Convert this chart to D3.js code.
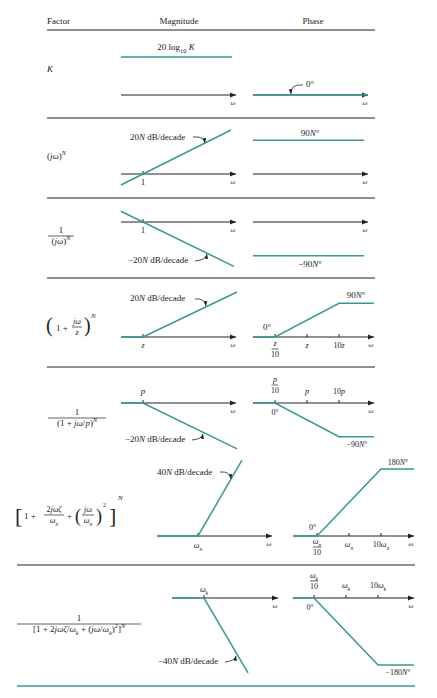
<!DOCTYPE html>
<html><head><meta charset="utf-8">
<script src="https://cdn.jsdelivr.net/npm/d3@7"></script>
<style>
body{margin:0;background:#fff}
text{font-family:"Liberation Serif","DejaVu Serif",serif;fill:#222}
</style></head>
<body><svg id="c" width="437" height="698"></svg>
<script>
// asymptote breakpoints: [decades from corner, dB or degrees]
var magK = [[-0.69, 20], [2.78, 20]];
var magJw = [[-0.69, -13.8], [2.75, 55]];
var magInvJw = [[-0.69, 13.8], [2.84, -56.8]];
var magZero = [[-0.69, 0], [0, 0], [2.94, 58.8]];
var magPole = [[-0.69, 0], [0, 0], [2.94, -58.8]];
var magQuad = [[-1.28, 0], [0, 0], [1.375, 55]];
var magInvQuad = [[-1, 0], [0, 0], [1.375, -55]];

var phK = [[-1.69, 0], [1.9, 0]];
var phJw = [[-1.69, 90], [1.78, 90]];
var phInvJw = [[-1.69, -90], [1.78, -90]];
var phZero = [[-1.69, 0], [-1, 0], [1, 90], [2.09, 90]];
var phPole = [[-1.69, 0], [-1, 0], [1, -90], [2.09, -90]];
var phQuad = [[-1.75, 0], [-1, 0], [1, 180], [2.03, 180]];
var phInvQuad = [[-1.66, 0], [-1, 0], [1, -180], [2.12, -180]];

var phaseTicks = [-1, 0, 1];

var teal = '#3a9893';
var svg = d3.select('#c');
var decade = 32;

svg.append('defs').append('marker').attr('id', 'ah').attr('viewBox', '0 0 10 10')
  .attr('refX', 10).attr('refY', 5).attr('markerWidth', 6).attr('markerHeight', 6)
  .attr('orient', 'auto').append('path').attr('d', 'M0,1L10,5L0,9z').attr('fill', '#222');

// rich text: parts = [str, style] style: i italic, sub, sup
function rt(x, y, parts, anchor, size) {
  size = size || 9;
  var t = svg.append('text').attr('x', x).attr('y', y).attr('font-size', size)
    .attr('text-anchor', anchor || 'start');
  var shift = 0;
  parts.forEach(function(p) {
    var s = t.append('tspan').text(p[0]);
    var st = p[1] || '';
    if (st.indexOf('i') >= 0) s.attr('font-style', 'italic');
    var want = st.indexOf('sub') >= 0 ? 2.5 : st.indexOf('sup') >= 0 ? -4 : 0;
    if (want !== 0 || shift !== 0) { s.attr('dy', want - shift); shift = want; }
    if (want !== 0) s.attr('font-size', size * 0.7);
  });
  return t;
}
function frac(x, y, num, den, w, size) {
  rt(x, y - 3, num, 'middle', size);
  svg.append('line').attr('x1', x - w / 2).attr('x2', x + w / 2).attr('y1', y).attr('y2', y)
    .attr('stroke', '#222').attr('stroke-width', 0.7);
  rt(x, y + 8, den, 'middle', size);
}
function hline(x1, x2, y, col, w) {
  svg.append('line').attr('x1', x1).attr('x2', x2).attr('y1', y).attr('y2', y)
    .attr('stroke', col || '#222').attr('stroke-width', w || 1);
}
function curl(x1, y1, x2, y2) {
  var mx = (x1 + x2) / 2, my = Math.min(y1, y2) - 3;
  svg.append('path').attr('d', 'M' + x1 + ',' + y1 + 'Q' + (x2 - 1) + ',' + (y1 - 1) + ' ' + x2 + ',' + y2)
    .attr('fill', 'none').attr('stroke', '#222').attr('stroke-width', 0.8).attr('marker-end', 'url(#ah)');
}

// one asymptote panel: axis with arrow, asymptote via scales
function panel(p, data, ticks) {
  var x = d3.scaleLinear().domain([0, 1]).range([p.corner, p.corner + decade]);
  var y = d3.scaleLinear().domain([0, 1]).range([p.axisY, p.axisY - p.ppu]);
  svg.append('line').attr('x1', p.left).attr('x2', p.right).attr('y1', p.axisY).attr('y2', p.axisY)
    .attr('stroke', '#222').attr('stroke-width', 1).attr('marker-end', 'url(#ah)');
  (ticks || []).forEach(function(t) {
    svg.append('line').attr('x1', x(t)).attr('x2', x(t)).attr('y1', p.axisY - 3).attr('y2', p.axisY)
      .attr('stroke', '#222');
  });
  svg.append('path').datum(data)
    .attr('d', d3.line().x(function(d) { return x(d[0]); }).y(function(d) { return y(d[1]); }))
    .attr('fill', 'none').attr('stroke', teal).attr('stroke-width', 1.5);
  rt(p.right - 3, p.axisY + 10, [['ω', 'i']], 'middle', 7);
  return x;
}

// header
rt(47, 24, [['Factor']], 'start', 9);
rt(179, 24, [['Magnitude']], 'middle', 9);
rt(313, 24, [['Phase']], 'middle', 9);
hline(47, 375, 30);

// row K
panel({left: 121, right: 236, axisY: 95, corner: 143, ppu: 1.9}, magK);
panel({left: 253, right: 368, axisY: 95, corner: 307, ppu: 0.375}, phK);
rt(47, 72, [['K', 'i']]);
rt(176, 50, [['20 log'], ['10', 'sub'], [' '], ['K', 'i']], 'middle');
rt(306, 87, [['0°']]);
curl(303, 85, 291, 94);
hline(47, 375, 118);

// row (jw)^N
panel({left: 121, right: 236, axisY: 174, corner: 143, ppu: 0.8}, magJw, [0]);
panel({left: 253, right: 368, axisY: 174, corner: 307, ppu: 0.375}, phJw);
rt(143, 185, [['1']], 'middle');
rt(47, 159, [['('], ['jω', 'i'], [')'], ['N', 'i sup']]);
rt(130, 140, [['20'], ['N', 'i'], [' dB/decade']]);
curl(193, 137, 205, 143);
rt(310, 136, [['90'], ['N', 'i'], ['°']], 'middle');
hline(47, 375, 198);

// row 1/(jw)^N
panel({left: 121, right: 236, axisY: 222, corner: 143, ppu: 0.78}, magInvJw, [0]);
panel({left: 253, right: 368, axisY: 222, corner: 307, ppu: 0.375}, phInvJw);
rt(143, 233, [['1']], 'middle');
frac(61, 236, [['1']], [['('], ['jω', 'i'], [')'], ['N', 'i sup']], 26);
rt(128, 263, [['−20'], ['N', 'i'], [' dB/decade']]);
curl(195, 261, 207, 254);
rt(310, 267, [['−90'], ['N', 'i'], ['°']], 'middle');
hline(47, 375, 278);

// row (1 + jw/z)^N
var xz = panel({left: 121, right: 236, axisY: 337, corner: 143, ppu: 0.765}, magZero, [0]);
var pz = panel({left: 253, right: 374, axisY: 337, corner: 307, ppu: 0.375}, phZero, phaseTicks);
rt(143, 348, [['z', 'i']], 'middle', 8);
frac(pz(-1), 349, [['z', 'i']], [['10']], 7, 8);
rt(pz(0), 348, [['z', 'i']], 'middle', 8);
rt(pz(1), 348, [['10'], ['z', 'i']], 'middle', 8);
rt(130, 301, [['20'], ['N', 'i'], [' dB/decade']]);
curl(195, 299, 206, 306);
rt(263, 330, [['0°']]);
rt(356, 298, [['90'], ['N', 'i'], ['°']], 'middle');
rt(46, 332, [['(']], 'start', 20);
rt(56, 331, [['1 +']], 'start', 9);
frac(77, 327, [['jω', 'i']], [['z', 'i']], 10, 8);
rt(84, 332, [[')']], 'start', 20);
rt(91, 318, [['N', 'i']], 'start', 7);
hline(47, 375, 367);

// row 1/(1 + jw/p)^N
panel({left: 121, right: 236, axisY: 403, corner: 143, ppu: 0.78}, magPole, [0]);
var pp = panel({left: 253, right: 374, axisY: 403, corner: 307, ppu: 0.375}, phPole, phaseTicks);
rt(143, 394, [['p', 'i']], 'middle');
frac(pp(-1), 385, [['p', 'i']], [['10']], 7, 8);
rt(pp(0), 394, [['p', 'i']], 'middle', 8);
rt(pp(1), 394, [['10'], ['p', 'i']], 'middle', 8);
rt(275, 415, [['0°']], 'middle', 8);
rt(357, 447, [['−90'], ['N', 'i'], ['°']], 'middle', 8);
rt(125, 442, [['−20'], ['N', 'i'], [' dB/decade']]);
curl(192, 440, 203, 434);
frac(77, 418, [['1']], [['(1 + '], ['jω', 'i'], ['/'], ['p', 'i'], [')'], ['N', 'i sup']], 58);

// row quadratic zero
var xq = panel({left: 157, right: 272, axisY: 536, corner: 198, ppu: 1.38}, magQuad, [0]);
var pq = panel({left: 293, right: 414, axisY: 536, corner: 349, ppu: 0.372}, phQuad, phaseTicks);
rt(198, 548, [['ω', 'i'], ['n', 'i sub']], 'middle', 8);
frac(pq(-1), 547, [['ω', 'i'], ['n', 'i sub']], [['10']], 8, 8);
rt(pq(0), 547, [['ω', 'i'], ['n', 'i sub']], 'middle', 8);
rt(pq(1), 547, [['10'], ['ω', 'i'], ['n', 'i sub']], 'middle', 8);
rt(157, 475, [['40'], ['N', 'i'], [' dB/decade']]);
curl(220, 472, 231, 479);
rt(309, 530, [['0°']], 'start', 8);
rt(398, 465, [['180'], ['N', 'i'], ['°']], 'middle', 8);
rt(15, 523, [['[']], 'start', 22);
rt(24, 519, [['1 +']], 'start', 9);
frac(54, 515, [['2'], ['jωζ', 'i']], [['ω', 'i'], ['n', 'i sub']], 20, 8);
rt(67, 519, [['+']], 'start', 9);
rt(75, 522, [['(']], 'start', 18);
frac(88, 515, [['jω', 'i']], [['ω', 'i'], ['n', 'i sub']], 12, 8);
rt(96, 522, [[')']], 'start', 18);
rt(103, 507, [['2']], 'start', 6);
rt(109, 523, [[']']], 'start', 22);
rt(118, 500, [['N', 'i']], 'start', 7);
hline(17, 415, 565);

// row quadratic pole
panel({left: 172, right: 278, axisY: 598, corner: 204, ppu: 1.36}, magInvQuad, [0]);
var pk = panel({left: 293, right: 414, axisY: 598, corner: 346, ppu: 0.372}, phInvQuad, phaseTicks);
rt(204, 592, [['ω', 'i'], ['k', 'i sub']], 'middle', 8);
frac(pk(-1), 581, [['ω', 'i'], ['k', 'i sub']], [['10']], 8, 8);
rt(pk(0), 588, [['ω', 'i'], ['k', 'i sub']], 'middle', 8);
rt(pk(1), 588, [['10'], ['ω', 'i'], ['k', 'i sub']], 'middle', 8);
rt(310, 610, [['0°']], 'middle', 8);
rt(398, 675, [['−180'], ['N', 'i'], ['°']], 'middle', 8);
rt(158, 664, [['−40'], ['N', 'i'], [' dB/decade']]);
curl(225, 662, 236, 656);
frac(79, 624, [['1']], [['[1 + 2'], ['jωζ', 'i'], ['/'], ['ω', 'i'], ['k', 'i sub'], [' + ('], ['jω', 'i'], ['/'], ['ω', 'i'], ['k', 'i sub'], [')'], ['2', 'sup'], [']'], ['N', 'i sup']], 124);
hline(17, 415, 686, teal, 1.5);
</script></body></html>
